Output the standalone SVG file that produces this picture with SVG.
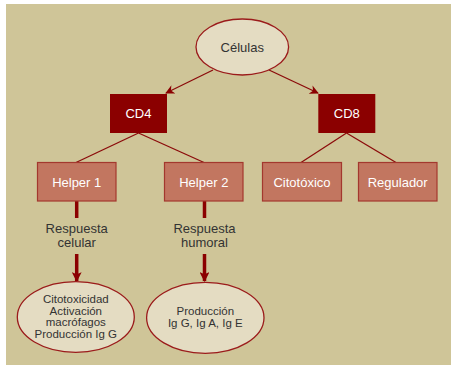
<svg xmlns="http://www.w3.org/2000/svg" width="451" height="367" viewBox="0 0 451 367">
<defs>
<style>
.bg{fill:#cfc598}
.ell{fill:#e4dcc2;stroke:#9b1b1b;stroke-width:1.3}
.cd{fill:#8b0000}
.hp{fill:#c27660;stroke:#a3382e;stroke-width:1.2}
.thin{stroke:#8b0a0a;stroke-width:1.3;fill:none}
.thick{stroke:#8b0000;stroke-width:3.5;fill:none}
.tw{font-family:"Liberation Sans",Arial,sans-serif;font-size:13px;fill:#ffffff;text-anchor:middle}
.tt{font-family:"Liberation Sans",Arial,sans-serif;font-size:13px;fill:#333333;text-anchor:middle}
.ts{font-family:"Liberation Sans",Arial,sans-serif;font-size:11.5px;fill:#333333;text-anchor:middle}
</style>
<marker id="ah" viewBox="0 0 10 10" refX="9" refY="5" markerWidth="10" markerHeight="7" orient="auto" markerUnits="strokeWidth">
<path d="M0,0 L10,5 L0,10 L3,5 z" fill="#8b0000"/>
</marker>
<marker id="ahb" viewBox="0 0 10 10" refX="9" refY="5" markerWidth="3" markerHeight="2.8" orient="auto" markerUnits="strokeWidth">
<path d="M0,0 L10,5 L0,10 L2,5 z" fill="#8b0000"/>
</marker>
</defs>
<rect x="0" y="0" width="451" height="367" fill="#ffffff"/>
<rect class="bg" x="6" y="4" width="445" height="361"/>
<g id="connectors">
<line class="thin" x1="213" y1="70" x2="166" y2="93" marker-end="url(#ah)"/>
<line class="thin" x1="269" y1="70" x2="318" y2="93" marker-end="url(#ah)"/>
<line class="thin" x1="138.5" y1="133" x2="76" y2="162.5"/>
<line class="thin" x1="138.5" y1="133" x2="204" y2="162.5"/>
<line class="thin" x1="346.5" y1="133" x2="301" y2="162.5"/>
<line class="thin" x1="346.5" y1="133" x2="396" y2="162.5"/>
<line class="thick" x1="76.7" y1="201" x2="76.7" y2="218"/>
<line class="thick" x1="76.7" y1="254" x2="76.7" y2="281" marker-end="url(#ahb)"/>
<line class="thick" x1="204.5" y1="201" x2="204.5" y2="218"/>
<line class="thick" x1="204.5" y1="254" x2="204.5" y2="281" marker-end="url(#ahb)"/>
</g>
<g id="celulas">
<ellipse class="ell" cx="242.3" cy="47" rx="46.3" ry="28"/>
<text class="tt" x="242.3" y="51.5">Células</text>
</g>
<g id="cd4">
<rect class="cd" x="110" y="94" width="57" height="39"/>
<text class="tw" x="138.5" y="118">CD4</text>
</g>
<g id="cd8">
<rect class="cd" x="318.3" y="94" width="57" height="39"/>
<text class="tw" x="346.8" y="118">CD8</text>
</g>
<g id="helper1">
<rect class="hp" x="37.5" y="162.5" width="78.5" height="38.5"/>
<text class="tw" x="76.7" y="186.5">Helper 1</text>
</g>
<g id="helper2">
<rect class="hp" x="164.5" y="162.5" width="78.5" height="38.5"/>
<text class="tw" x="203.8" y="186.5">Helper 2</text>
</g>
<g id="citotoxico">
<rect class="hp" x="262.5" y="162.5" width="79" height="38.5"/>
<text class="tw" x="302" y="186.5">Citotóxico</text>
</g>
<g id="regulador">
<rect class="hp" x="358.5" y="162.5" width="78.5" height="38.5"/>
<text class="tw" x="397.7" y="186.5">Regulador</text>
</g>
<g id="resp-celular">
<text class="tt" x="76.7" y="233">Respuesta</text>
<text class="tt" x="76.7" y="246.5">celular</text>
</g>
<g id="resp-humoral">
<text class="tt" x="204.5" y="233">Respuesta</text>
<text class="tt" x="204.5" y="246.5">humoral</text>
</g>
<g id="citotoxicidad">
<ellipse class="ell" cx="75.8" cy="317" rx="58.5" ry="35.3"/>
<text class="ts" x="75.8" y="302.5">Citotoxicidad</text>
<text class="ts" x="75.8" y="314.5">Activación</text>
<text class="ts" x="75.8" y="326.3">macrófagos</text>
<text class="ts" x="75.8" y="338">Producción Ig G</text>
</g>
<g id="produccion">
<ellipse class="ell" cx="205.3" cy="317.8" rx="58.7" ry="35.5"/>
<text class="ts" x="205.3" y="315">Producción</text>
<text class="ts" x="205.3" y="327">Ig G, Ig A, Ig E</text>
</g>
</svg>
